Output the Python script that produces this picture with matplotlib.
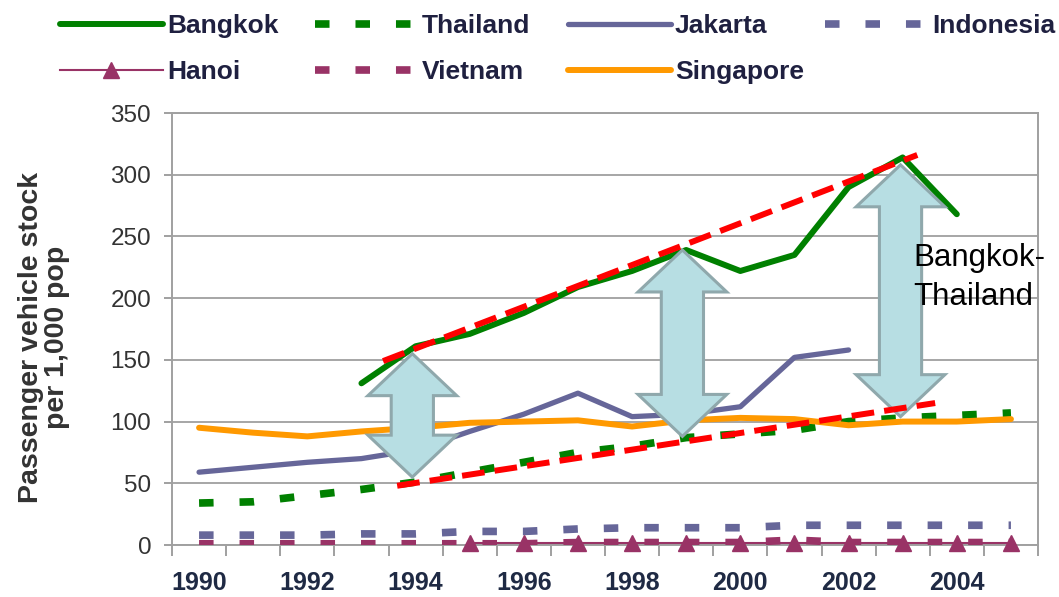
import numpy as np
import matplotlib
matplotlib.use("Agg")
import matplotlib.pyplot as plt
from matplotlib.patches import Polygon

nan = np.nan
years = list(range(1990, 2006))
tick_years = [1990, 1992, 1994, 1996, 1998, 2000, 2002, 2004]

bangkok   = [nan, nan, nan, 131, 161, 171, 188, 209, 222, 239, 222, 235, 290, 314, 268, nan]
thailand  = [34, 35, 40, 45, 51, 59, 67, 75, 80, 87, 90, 93, 100, 103, 105, 107]
jakarta   = [59, 63, 67, 70, 77, 92, 106, 123, 104, 106, 112, 152, 158, nan, nan, nan]
indonesia = [8, 8, 8, 9, 9, 11, 11, 13, 14, 14, 14, 16, 16, 16, 16, 16]
hanoi     = [nan, nan, nan, nan, nan, 2, 2, 2, 2, 2, 2, 2, 2, 2, 2, 2]
vietnam   = [1, 1, 1, 1, 1, 1, 1, 2, 2, 2, 2, 4, 2, 2, 2, 2]
singapore = [95, 91, 88, 92, 95, 99, 100, 101, 96, 101, 103, 102, 97, 100, 100, 102]

plt.rcParams['font.family'] = ['Liberation Sans', 'DejaVu Sans']

fig = plt.figure(figsize=(10.59, 5.97), dpi=100)
ax = fig.add_axes([172/1059, 1-545/597, (1038-172)/1059, (545-113)/597])

x = np.arange(len(years))
GREEN = '#008000'
PURPLE = '#666699'
PLUM = '#993366'
ORANGE = '#FF9900'

l_bkk, = ax.plot(x, bangkok, color=GREEN, lw=4.3, solid_capstyle='round', zorder=4, label='Bangkok')
l_th, = ax.plot(x, thailand, color=GREEN, lw=5.5, dashes=(1.9, 3.4), dash_capstyle='butt', zorder=3, label='Thailand')
l_jak, = ax.plot(x, jakarta, color=PURPLE, lw=3.8, solid_capstyle='round', zorder=3, label='Jakarta')
l_ind, = ax.plot(x, indonesia, color=PURPLE, lw=5.5, dashes=(1.9, 3.4), dash_capstyle='butt', zorder=3, label='Indonesia')
l_vn, = ax.plot(x, vietnam, color=PLUM, lw=5.5, dashes=(1.9, 3.4), dash_capstyle='butt', zorder=3, label='Vietnam')
l_han, = ax.plot(x, hanoi, color=PLUM, lw=1.5, marker='^', ms=12, zorder=3, label='Hanoi', clip_on=False)
l_sg, = ax.plot(x, singapore, color=ORANGE, lw=4.3, solid_capstyle='round', zorder=3, label='Singapore')

# axes styling
ax.set_xlim(-0.5, len(years) - 0.5)
ax.set_ylim(0, 350)
ax.set_yticks(np.arange(0, 351, 50))
ax.yaxis.grid(True, color='#a6a6a6', lw=1.4)
ax.set_axisbelow(True)
for s in ax.spines.values():
    s.set_color('#a0a0a0')
    s.set_linewidth(1.4)
ax.set_xticks(np.arange(-0.5, len(years), 1))
ax.set_xticklabels([])
ax.set_xticks([years.index(y) for y in tick_years], minor=True)
ax.set_xticklabels([str(y) for y in tick_years], minor=True,
                   fontsize=18, fontweight='bold', color='#1f2a44')
ax.tick_params(axis='x', which='major', length=8, width=1.4, color='#a0a0a0', direction='out')
ax.tick_params(axis='x', which='minor', length=0, pad=19)
ax.tick_params(axis='y', length=6, width=1.4, color='#a0a0a0', pad=9,
               labelsize=17.5, labelcolor='#333333')

# trend lines and arrows
ARROW_FC = '#B7DEE3'
ARROW_EC = '#8FA8AC'

def double_arrow(cx, y0, y1, hw=0.82, sw=0.39, hl=34):
    pts = [(cx, y1), (cx + hw, y1 - hl), (cx + sw, y1 - hl), (cx + sw, y0 + hl),
           (cx + hw, y0 + hl), (cx, y0), (cx - hw, y0 + hl), (cx - sw, y0 + hl),
           (cx - sw, y1 - hl), (cx - hw, y1 - hl)]
    ax.add_patch(Polygon(pts, closed=True, fc=ARROW_FC, ec=ARROW_EC, lw=2.2, zorder=5))

double_arrow(3.94, 55, 155)
double_arrow(8.93, 88, 239)
double_arrow(12.96, 104, 308)

ax.plot([3.4, 13.27], [149, 316], color='#FF0000', lw=4.3, dashes=(3.8, 1.7), zorder=6)
ax.plot([3.66, 13.6], [48, 115], color='#FF0000', lw=4.3, dashes=(3.8, 1.7), zorder=6)

ax.text(13.2, 245, 'Bangkok-\nThailand', fontsize=22.5, color='black', ha='left', va='top',
        linespacing=1.4, zorder=7)

fig.text(44/1059, 1-337/597, 'Passenger vehicle stock\nper 1,000 pop', rotation=90,
         ha='center', va='center', multialignment='center', fontsize=20.5,
         fontweight='bold', color='#333333', linespacing=1.0)

# legend: four equally spaced columns
columns = [[l_bkk, l_han], [l_th, l_vn], [l_jak, l_sg], [l_ind]]
col_x = [60, 315, 568, 825]
for hs, cx in zip(columns, col_x):
    leg = fig.legend(handles=hs, labels=[h.get_label() for h in hs], ncol=1,
                     loc='upper left', bbox_to_anchor=(cx/1059, 1-14/597), frameon=False,
                     borderpad=0, borderaxespad=0, handlelength=3.9, handletextpad=0.15,
                     labelspacing=0.85, numpoints=1,
                     prop={'size': 19, 'weight': 'bold'})
    for t in leg.get_texts():
        t.set_color('#1f2040')

fig.savefig('out.png', dpi=100)
